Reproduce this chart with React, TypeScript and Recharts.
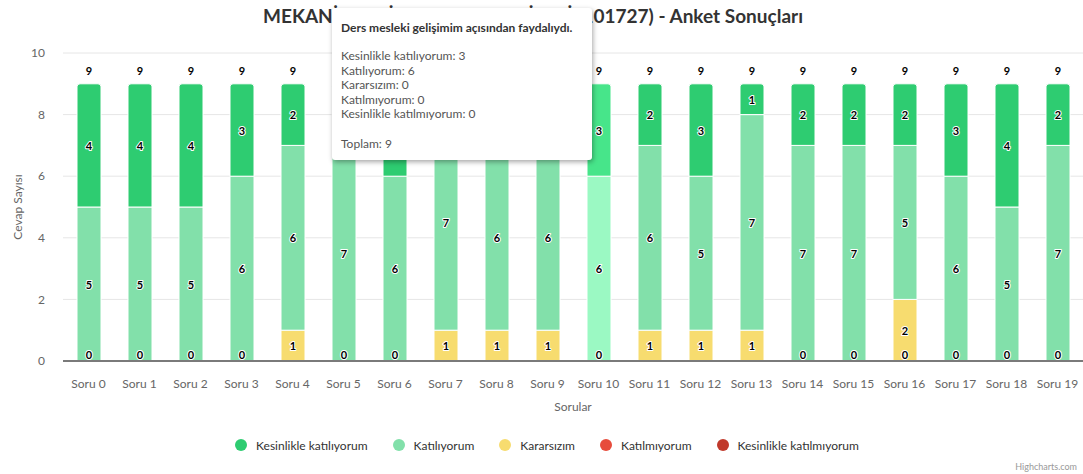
import { Bar, BarChart, CartesianGrid, Cell, LabelList, Legend, Tooltip, XAxis, YAxis } from "recharts"

const categories = [
  "Soru 0", "Soru 1", "Soru 2", "Soru 3", "Soru 4", "Soru 5", "Soru 6", "Soru 7", "Soru 8", "Soru 9",
  "Soru 10", "Soru 11", "Soru 12", "Soru 13", "Soru 14", "Soru 15", "Soru 16", "Soru 17", "Soru 18", "Soru 19",
]

const kesinlikleKatiliyorum = [4, 4, 4, 3, 2, 2, 3, 1, 2, 2, 3, 2, 3, 1, 2, 2, 2, 3, 4, 2]
const katiliyorum = [5, 5, 5, 6, 6, 7, 6, 7, 6, 6, 6, 6, 5, 7, 7, 7, 5, 6, 5, 7]
const kararsizim = [0, 0, 0, 0, 1, 0, 0, 1, 1, 1, 0, 1, 1, 1, 0, 0, 2, 0, 0, 0]
const katilmiyorum = [0, 0, 0, 0, 0, 0, 0, 0, 0, 0, 0, 0, 0, 0, 0, 0, 0, 0, 0, 0]
const kesinlikleKatilmiyorum = [0, 0, 0, 0, 0, 0, 0, 0, 0, 0, 0, 0, 0, 0, 0, 0, 0, 0, 0, 0]

const yTicks = [0, 2, 4, 6, 8, 10]

// the column under the mouse in the screenshot, and its question text
const hoverIndex = 10
const hoveredQuestion = "Ders mesleki gelişimim açısından faydalıydı."

const FONT = "Lato, 'Open Sans', sans-serif"

// legend order (top of the stack first, like highcharts)
const series = [
  { key: "kesinlikleKatiliyorum", name: "Kesinlikle katılıyorum", color: "#2ecc71", hover: "#47e58a", values: kesinlikleKatiliyorum },
  { key: "katiliyorum", name: "Katılıyorum", color: "#82e0aa", hover: "#9bf9c3", values: katiliyorum },
  { key: "kararsizim", name: "Kararsızım", color: "#f7dc6f", hover: "#fff588", values: kararsizim },
  { key: "katilmiyorum", name: "Katılmıyorum", color: "#e74c3c", hover: "#ff6555", values: katilmiyorum },
  { key: "kesinlikleKatilmiyorum", name: "Kesinlikle katılmıyorum", color: "#c0392b", hover: "#d95244", values: kesinlikleKatilmiyorum },
]
const stackOrder = [...series].reverse()

const data = categories.map((name, i) => {
  const row: Record<string, string | number> = { name }
  series.forEach((s) => (row[s.key] = s.values[i]))
  return row
})
const totals = categories.map((_, i) => series.reduce((sum, s) => sum + s.values[i], 0))

// lowest non-zero segment of a column (index into stackOrder)
function lowestFilled(i: number) {
  return stackOrder.findIndex((s) => s.values[i] > 0)
}

const labelStyle = {
  fontSize: 11,
  fontWeight: 700,
  fill: "#000",
  stroke: "#fff",
  strokeWidth: 2,
  paintOrder: "stroke",
  strokeLinejoin: "round",
} as const

// zero-height bars get no label from recharts, so the "0" of the empty
// series at the base is drawn by the lowest filled segment instead.
// highcharts hides it when a short segment's label sits on top of it.
function segmentLabel(stackPos: number) {
  return (props: any) => {
    const x = Number(props.x)
    const y = Number(props.y)
    const w = Number(props.width)
    const h = Math.abs(Number(props.height))
    const value = Number(props.value)
    const i = props.index
    if (!value) return null
    const cx = x + w / 2
    const showBase = lowestFilled(i) === stackPos && stackPos > 0 && h / 2 - 7 > 11
    return (
      <g key={`l-${stackPos}-${i}`}>
        <text x={cx} y={y + h / 2} textAnchor="middle" dominantBaseline="central" style={labelStyle}>
          {value}
        </text>
        {showBase && (
          <text x={cx} y={y + h - 7} textAnchor="middle" dominantBaseline="central" style={labelStyle}>
            {stackOrder[0].values[i]}
          </text>
        )}
      </g>
    )
  }
}

function totalLabel(props: any) {
  const x = Number(props.x)
  const y = Number(props.y)
  const w = Number(props.width)
  return (
    <text key={`t-${props.index}`} x={x + w / 2} y={y - 13} textAnchor="middle" dominantBaseline="central" style={{ ...labelStyle, strokeWidth: 0 }}>
      {totals[props.index]}
    </text>
  )
}

function TooltipBox({ label }: any) {
  const i = categories.indexOf(label)
  if (i < 0) return null
  return (
    <div
      style={{
        width: 260,
        height: 152,
        boxSizing: "border-box",
        background: "#fff",
        borderRadius: 3,
        boxShadow: "1px 2px 5px rgba(0,0,0,0.35)",
        padding: "13px 9px",
        fontFamily: FONT,
        fontSize: 12,
        lineHeight: "14.5px",
        color: "#555",
      }}
    >
      <div style={{ fontWeight: 700, color: "#333", marginBottom: 13.5 }}>{hoveredQuestion}</div>
      {series.map((s) => (
        <div key={s.key}>
          {s.name}: {s.values[i]}
        </div>
      ))}
      <div style={{ marginTop: 15 }}>Toplam: {totals[i]}</div>
    </div>
  )
}

function LegendBox() {
  return (
    <div style={{ height: 30, display: "flex", justifyContent: "center", alignItems: "center", fontFamily: FONT, fontSize: 12, color: "#333", paddingLeft: 11 }}>
      {series.map((s) => (
        <div key={s.key} style={{ display: "flex", alignItems: "center", margin: "0 12.5px" }}>
          <span style={{ width: 12, height: 12, borderRadius: 6, background: s.color, marginRight: 9 }} />
          <span>{s.name}</span>
        </div>
      ))}
    </div>
  )
}

function YTitle() {
  return (
    <text x={17} y={207} transform="rotate(-90 17 207)" textAnchor="middle" dominantBaseline="central" fill="#666" fontSize={12}>
      Cevap Sayısı
    </text>
  )
}

export default function App() {
  return (
    <div style={{ position: "relative", width: 1083, height: 474, fontFamily: FONT, background: "#fff" }}>
      <style>{`body{margin:0}`}</style>
      <div style={{ position: "absolute", top: 4, left: 263, whiteSpace: "nowrap", fontSize: 19, fontWeight: 700, color: "#333" }}>
        MEKANİK TESİSAT TEKNOLOJİLERİ (101727) - Anket Sonuçları
      </div>
      <BarChart width={1083} height={474} data={data} margin={{ top: 53, right: 0, bottom: 14, left: 0 }}>
        <CartesianGrid vertical={false} stroke="#e6e6e6" />
        <XAxis
          dataKey="name"
          height={69}
          tickLine={false}
          tickMargin={12}
          axisLine={{ stroke: "#7a7a7a", strokeWidth: 2 }}
          tick={{ fill: "#666", fontSize: 12 }}
          interval={0}
          label={{ value: "Sorular", position: "insideBottom", offset: 19, fill: "#666", fontSize: 12 }}
        />
        <YAxis
          width={63}
          domain={[0, 10]}
          ticks={yTicks}
          tickLine={false}
          axisLine={false}
          tickMargin={12}
          tick={{ fill: "#666", fontSize: 12 }}
          label={<YTitle />}
        />
        <Tooltip
          active
          defaultIndex={hoverIndex}
          position={{ x: 332, y: 8 }}
          cursor={false}
          isAnimationActive={false}
          content={<TooltipBox />}
          wrapperStyle={{ zIndex: 10, outline: "none" }}
        />
        <Legend verticalAlign="bottom" content={<LegendBox />} />
        {stackOrder.map((s, pos) => (
          <Bar
            key={s.key}
            dataKey={s.key}
            name={s.name}
            stackId="a"
            barSize={24}
            fill={s.color}
            stroke="#fff"
            strokeWidth={1}
            radius={pos === stackOrder.length - 1 ? [3, 3, 0, 0] : 0}
            isAnimationActive={false}
          >
            {data.map((_, i) => (
              <Cell key={i} fill={i === hoverIndex ? s.hover : s.color} />
            ))}
            <LabelList dataKey={s.key} content={segmentLabel(pos)} />
            {pos === stackOrder.length - 1 && <LabelList dataKey={s.key} content={totalLabel} />}
          </Bar>
        ))}
      </BarChart>
      <div style={{ position: "absolute", right: 6, bottom: 2, fontSize: 9, color: "#999" }}>Highcharts.com</div>
    </div>
  )
}
